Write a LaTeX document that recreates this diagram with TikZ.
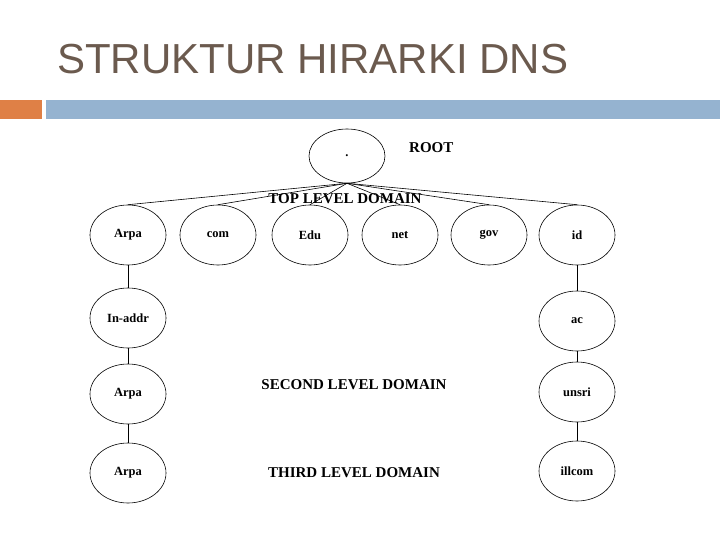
\documentclass[tikz,border=0pt]{standalone}
\usepackage{fontspec}
\usetikzlibrary{shapes.geometric}
\setmainfont{Liberation Serif}
\newfontfamily\titlefont{Liberation Sans}
\definecolor{titlec}{HTML}{6B5A4E}
\definecolor{barblue}{HTML}{95B3D0}
\definecolor{barorange}{HTML}{DF8046}
\begin{document}
\begin{tikzpicture}[x=1pt,y=-1pt,
  dom/.style={draw,ellipse,minimum width=76pt,minimum height=60pt,inner sep=0pt,font=\bfseries\fontsize{12.5}{14}\selectfont,line width=0.6pt},
  lbl/.style={font=\bfseries\fontsize{15}{17}\selectfont},
  con/.style={line width=0.6pt}]
\useasboundingbox (0,0) rectangle (720,540);
\node[anchor=base west,font=\titlefont\fontsize{42}{46}\selectfont,text=titlec,inner sep=0pt] (title) at (57,74) {STRUKTUR HIRARKI DNS};
\fill[barorange] (0,100) rectangle (42,119);
\fill[barblue] (46,100) rectangle (720,119);
\node[dom,minimum width=76pt,minimum height=54pt] (root) at (347,156) {.};
\node[lbl,anchor=west,inner sep=0pt] (rootl) at (409,148) {ROOT};
\node[dom] (arpa) at (128,235) {Arpa};
\node[dom] (com) at (218,235) {com};
\node[dom] (edu) at (310,235) {Edu};
\node[dom] (net) at (400,235) {net};
\node[dom] (gov) at (489,235) {gov};
\node[dom] (id) at (577,235) {id};
\foreach \n in {arpa,com,edu,net,gov,id}{\draw[con] (root.south) -- (\n.north);}
\node[lbl,inner sep=0pt] (tld) at (345,199) {TOP LEVEL DOMAIN};
\node[dom] (inaddr) at (128,318) {In-addr};
\node[dom] (arpa2) at (128,394) {Arpa};
\node[dom] (arpa3) at (128,473) {Arpa};
\node[dom] (ac) at (577,321) {ac};
\node[dom] (unsri) at (577,392) {unsri};
\node[dom] (illcom) at (577,471) {illcom};
\draw[con] (arpa) -- (inaddr) -- (arpa2) -- (arpa3);
\draw[con] (id) -- (ac) -- (unsri) -- (illcom);
\node[lbl] (sld) at (354,385) {SECOND LEVEL DOMAIN};
\node[lbl] (thld) at (354,473) {THIRD LEVEL DOMAIN};
\end{tikzpicture}
\end{document}
